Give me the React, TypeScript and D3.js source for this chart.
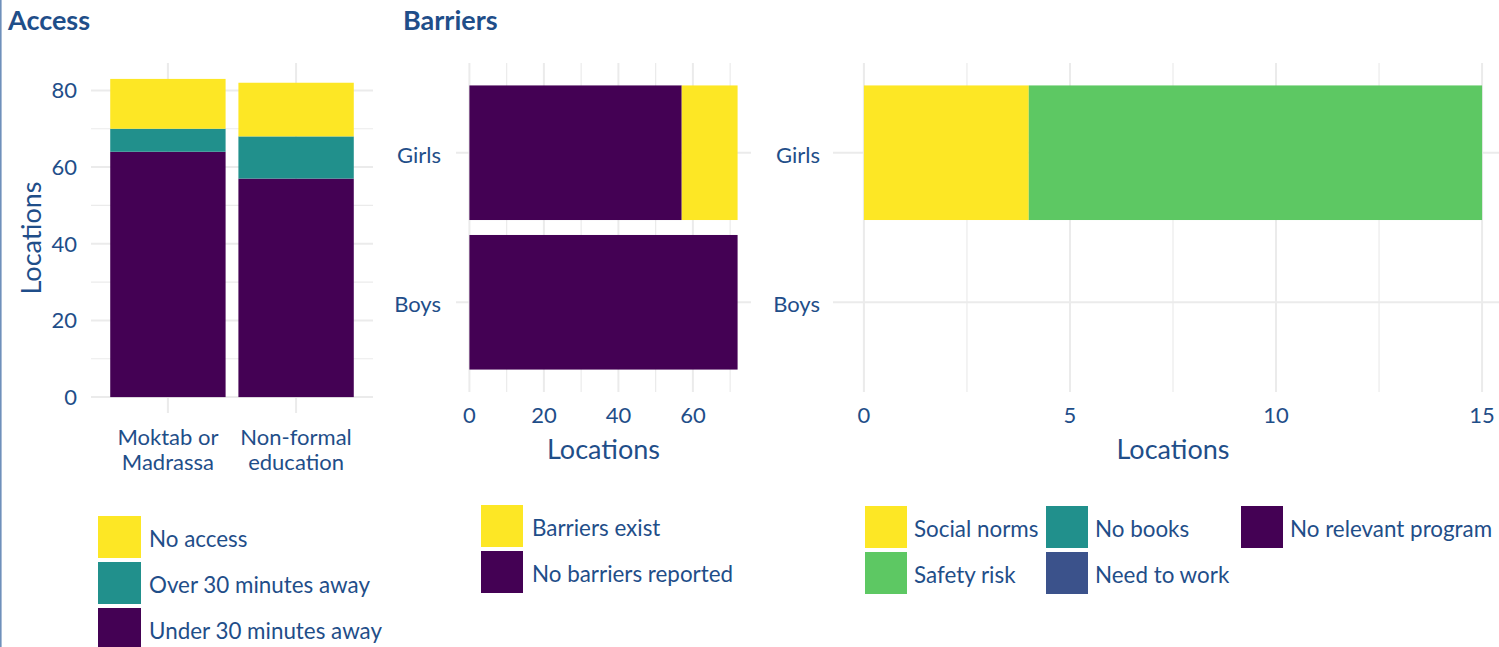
import React from "react";
import * as d3 from "d3";

// ---------- Data ----------
const accessCats = ["Moktab or Madrassa", "Non-formal education"];
const accessCatLines = [["Moktab or", "Madrassa"], ["Non-formal", "education"]];
const accessKeys = ["Under 30 minutes away", "Over 30 minutes away", "No access"];
const underVals = [64, 57];
const overVals = [6, 11];
const noAccessVals = [13, 14];
const accessTicks = [0, 20, 40, 60, 80];
const accessMinor = [10, 30, 50, 70];

const genderCats = ["Girls", "Boys"];
const barrierKeys = ["No barriers reported", "Barriers exist"];
const noBarrierVals = [57, 72];
const barriersExistVals = [15, 0];
const barrierTicks = [0, 20, 40, 60];
const barrierMinor = [10, 30, 50, 70];

const reasonKeys = ["Social norms", "Safety risk", "No books", "Need to work", "No relevant program"];
const socialNormsVals = [4, 0];
const safetyRiskVals = [11, 0];
const noBooksVals = [0, 0];
const needToWorkVals = [0, 0];
const noRelevantVals = [0, 0];
const reasonTicks = [0, 5, 10, 15];
const reasonMinor = [2.5, 7.5, 12.5];

// ---------- Style ----------
const TXT = "#1f4e89";
const GRID = "#ebebeb";
const FONT = "Lato, 'Open Sans', sans-serif";
const colors: Record<string, string> = {
  "No access": "#FDE725",
  "Over 30 minutes away": "#21908C",
  "Under 30 minutes away": "#440154",
  "Barriers exist": "#FDE725",
  "No barriers reported": "#440154",
  "Social norms": "#FDE725",
  "Safety risk": "#5DC863",
  "No books": "#21908C",
  "Need to work": "#3B528B",
  "No relevant program": "#440154",
};

export default function App() {
  // ---- Panel 1: Access ----
  const accessRows = accessCats.map((c, i) => ({
    cat: c,
    "Under 30 minutes away": underVals[i],
    "Over 30 minutes away": overVals[i],
    "No access": noAccessVals[i],
  }));
  const accessStack = d3.stack<any>().keys(accessKeys)(accessRows);
  const accessMax = d3.max(accessRows, (r) => r["Under 30 minutes away"] + r["Over 30 minutes away"] + r["No access"]) as number;
  const y1 = d3.scaleLinear().domain([-accessMax * 0.05, accessMax * 1.05]).range([413, 63]);
  const x1 = d3.scaleBand().domain(accessCats).range([91, 373]).paddingInner(0.1).paddingOuter(0.15);

  // ---- Panel 2: Barriers ----
  const barrierRows = genderCats.map((g, i) => ({
    cat: g,
    "No barriers reported": noBarrierVals[i],
    "Barriers exist": barriersExistVals[i],
  }));
  const barrierStack = d3.stack<any>().keys(barrierKeys)(barrierRows);
  const barrierMax = d3.max(barrierRows, (r) => r["No barriers reported"] + r["Barriers exist"]) as number;
  const x2 = d3.scaleLinear().domain([-barrierMax * 0.05, barrierMax * 1.05]).range([456, 751]);
  const yb = d3.scaleBand().domain(genderCats).range([63, 392]).paddingInner(0.1).paddingOuter(0.15);

  // ---- Panel 3: Reasons ----
  const reasonRows = genderCats.map((g, i) => ({
    cat: g,
    "Social norms": socialNormsVals[i],
    "Safety risk": safetyRiskVals[i],
    "No books": noBooksVals[i],
    "Need to work": needToWorkVals[i],
    "No relevant program": noRelevantVals[i],
  }));
  const reasonStack = d3.stack<any>().keys(reasonKeys)(reasonRows);
  const reasonMax = d3.max(reasonRows, (r) => reasonKeys.reduce((s, k) => s + (r as any)[k], 0)) as number;
  const x3 = d3.scaleLinear().domain([-reasonMax * 0.05, reasonMax * 1.05]).range([833, 1513]);

  const axisText = { fill: TXT, fontFamily: FONT, fontSize: 22 } as const;
  const titleText = { fill: TXT, fontFamily: FONT, fontSize: 27 } as const;
  const legText = { fill: TXT, fontFamily: FONT, fontSize: 22.4 } as const;

  const accessLegend = ["No access", "Over 30 minutes away", "Under 30 minutes away"];
  const barrierLegend = ["Barriers exist", "No barriers reported"];
  const reasonLegendCols = [["Social norms", "Safety risk"], ["No books", "Need to work"], ["No relevant program"]];
  const reasonColX = [865, 1046, 1241];

  return (
    <svg width={1499} height={647} style={{ position: "absolute", left: 0, top: 0, background: "#fff" }}>
      <rect x={0} y={0} width={1499} height={647} fill="#fff" />
      <rect x={0} y={0} width={1.6} height={647} fill="#6f90bb" />

      {/* Titles */}
      <text x={8} y={30} fill={TXT} fontFamily={FONT} fontSize={27} fontWeight={700}>Access</text>
      <text x={403} y={30} fill={TXT} fontFamily={FONT} fontSize={27} fontWeight={700}>Barriers</text>

      {/* ---------- Panel 1 ---------- */}
      {accessMinor.map((v) => (
        <line key={"m" + v} x1={91} x2={373} y1={y1(v)} y2={y1(v)} stroke={GRID} strokeWidth={1.2} />
      ))}
      {accessTicks.map((v) => (
        <line key={"g" + v} x1={91} x2={373} y1={y1(v)} y2={y1(v)} stroke={GRID} strokeWidth={2} />
      ))}
      {accessCats.map((c) => (
        <line key={c} x1={x1(c)! + x1.bandwidth() / 2} x2={x1(c)! + x1.bandwidth() / 2} y1={63} y2={413} stroke={GRID} strokeWidth={2} />
      ))}
      {accessStack.map((s) =>
        s.map((d, i) => (
          <rect key={s.key + i} x={x1(accessCats[i])} width={x1.bandwidth()} y={y1(d[1])} height={y1(d[0]) - y1(d[1])} fill={colors[s.key]} />
        ))
      )}
      {accessTicks.map((v) => (
        <text key={"t" + v} x={77} y={y1(v) + 8} textAnchor="end" {...axisText}>{v}</text>
      ))}
      {accessCats.map((c, i) =>
        accessCatLines[i].map((ln, j) => (
          <text key={c + j} x={x1(c)! + x1.bandwidth() / 2} y={445 + j * 25} textAnchor="middle" {...axisText}>{ln}</text>
        ))
      )}
      <text transform={`translate(41,${(63 + 413) / 2}) rotate(-90)`} textAnchor="middle" {...titleText}>Locations</text>

      {/* ---------- Panel 2 ---------- */}
      {barrierMinor.map((v) => (
        <line key={"m2" + v} x1={x2(v)} x2={x2(v)} y1={63} y2={392} stroke={GRID} strokeWidth={1.2} />
      ))}
      {barrierTicks.map((v) => (
        <line key={"g2" + v} x1={x2(v)} x2={x2(v)} y1={63} y2={392} stroke={GRID} strokeWidth={2} />
      ))}
      {genderCats.map((g) => (
        <line key={"h2" + g} x1={456} x2={751} y1={yb(g)! + yb.bandwidth() / 2} y2={yb(g)! + yb.bandwidth() / 2} stroke={GRID} strokeWidth={2} />
      ))}
      {barrierStack.map((s) =>
        s.map((d, i) =>
          d[1] - d[0] > 0 ? (
            <rect key={s.key + i} x={x2(d[0])} width={x2(d[1]) - x2(d[0])} y={yb(genderCats[i])} height={yb.bandwidth()} fill={colors[s.key]} />
          ) : null
        )
      )}
      {genderCats.map((g) => (
        <text key={"l2" + g} x={441} y={yb(g)! + yb.bandwidth() / 2 + 10} textAnchor="end" {...axisText}>{g}</text>
      ))}
      {barrierTicks.map((v) => (
        <text key={"t2" + v} x={x2(v)} y={423} textAnchor="middle" {...axisText}>{v}</text>
      ))}
      <text x={(456 + 751) / 2} y={459} textAnchor="middle" {...titleText}>Locations</text>

      {/* ---------- Panel 3 ---------- */}
      {reasonMinor.map((v) => (
        <line key={"m3" + v} x1={x3(v)} x2={x3(v)} y1={63} y2={392} stroke={GRID} strokeWidth={1.2} />
      ))}
      {reasonTicks.map((v) => (
        <line key={"g3" + v} x1={x3(v)} x2={x3(v)} y1={63} y2={392} stroke={GRID} strokeWidth={2} />
      ))}
      {genderCats.map((g) => (
        <line key={"h3" + g} x1={833} x2={1513} y1={yb(g)! + yb.bandwidth() / 2} y2={yb(g)! + yb.bandwidth() / 2} stroke={GRID} strokeWidth={2} />
      ))}
      {reasonStack.map((s) =>
        s.map((d, i) =>
          d[1] - d[0] > 0 ? (
            <rect key={s.key + i} x={x3(d[0])} width={x3(d[1]) - x3(d[0])} y={yb(genderCats[i])} height={yb.bandwidth()} fill={colors[s.key]} />
          ) : null
        )
      )}
      {genderCats.map((g) => (
        <text key={"l3" + g} x={820} y={yb(g)! + yb.bandwidth() / 2 + 10} textAnchor="end" {...axisText}>{g}</text>
      ))}
      {reasonTicks.map((v) => (
        <text key={"t3" + v} x={x3(v)} y={423} textAnchor="middle" {...axisText}>{v}</text>
      ))}
      <text x={1173} y={459} textAnchor="middle" {...titleText}>Locations</text>

      {/* ---------- Legends ---------- */}
      {accessLegend.map((k, i) => (
        <g key={"la" + k}>
          <rect x={98} y={516 + i * 46} width={43} height={42} fill={colors[k]} />
          <text x={149} y={516 + i * 46 + 31} {...legText}>{k}</text>
        </g>
      ))}
      {barrierLegend.map((k, i) => (
        <g key={"lb" + k}>
          <rect x={481} y={505 + i * 46} width={42} height={42} fill={colors[k]} />
          <text x={532} y={505 + i * 46 + 31} {...legText}>{k}</text>
        </g>
      ))}
      {reasonLegendCols.map((col, ci) =>
        col.map((k, ri) => (
          <g key={"lr" + k}>
            <rect x={reasonColX[ci]} y={506 + ri * 46} width={42} height={42} fill={colors[k]} />
            <text x={reasonColX[ci] + 49} y={506 + ri * 46 + 31} {...legText}>{k}</text>
          </g>
        ))
      )}
    </svg>
  );
}
